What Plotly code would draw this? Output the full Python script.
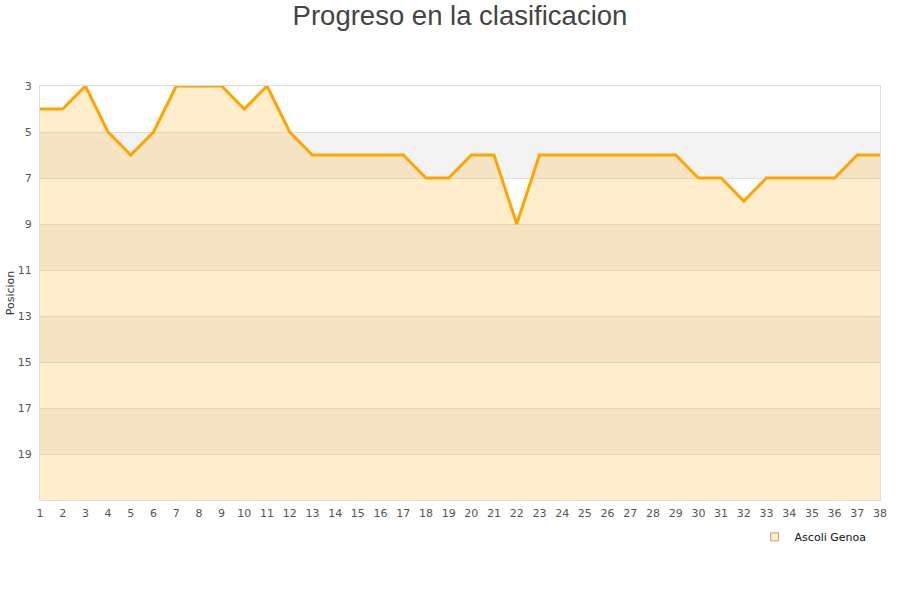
import plotly.graph_objects as go

jornadas = list(range(1, 39))
posiciones = [4, 4, 3, 5, 6, 5, 3, 3, 3, 4, 3, 5, 6, 6, 6, 6, 6, 7, 7, 6,
              6, 9, 6, 6, 6, 6, 6, 6, 6, 7, 7, 8, 7, 7, 7, 7, 6, 6]
base = [21] * len(jornadas)
y_ticks = [3, 5, 7, 9, 11, 13, 15, 17, 19]
equipo = "Ascoli Genoa"

fig = go.Figure()
fig.add_trace(go.Scatter(x=jornadas, y=base, mode="lines",
                         line=dict(width=0), showlegend=False, hoverinfo="skip"))
fig.add_trace(go.Scatter(x=jornadas, y=posiciones, mode="lines", name=equipo,
                         fill="tonexty", fillcolor="rgba(255,165,0,0.2)",
                         line=dict(color="#ffa500", width=3), showlegend=False))
# legend entry with square symbol
fig.add_trace(go.Scatter(x=[None], y=[None], mode="markers", name=equipo,
                         marker=dict(symbol="square", size=8, color="#feecca",
                                     line=dict(color="#c8a060", width=1))))

# alternating background bands
for i, t in enumerate(y_ticks):
    if i % 2 == 1:
        fig.add_shape(type="rect", xref="paper", yref="y", x0=0, x1=1,
                      y0=t, y1=t + 2, fillcolor="#f3f3f3", line=dict(width=0),
                      layer="below")

fig.update_layout(
    width=900, height=600,
    margin=dict(l=40, r=20, t=86, b=100),
    paper_bgcolor="white", plot_bgcolor="white",
    title=dict(text="Progreso en la clasificacion", x=0.5, xanchor="center",
               xref="paper", y=0.975, yanchor="middle",
               font=dict(family="Liberation Sans", size=27.5, color="#444")),
    xaxis=dict(range=[1, 38], tickmode="array", tickvals=jornadas,
               ticktext=[str(j) for j in jornadas], showgrid=False, automargin=False,
               showline=True, linecolor="#ddd", mirror=True, zeroline=False,
               tickfont=dict(family="DejaVu Sans", size=11, color="#555"), ticks="",
               ticklabelstandoff=3),
    yaxis=dict(range=[21, 3], tickmode="array", tickvals=y_ticks, automargin=False,
               showgrid=True, gridcolor="#e0e0e0", gridwidth=1,
               showline=True, linecolor="#ddd", mirror=True, zeroline=False,
               tickfont=dict(family="DejaVu Sans", size=11, color="#555"), ticks="",
               ticklabelstandoff=5,
               title=dict(text="Posicion", standoff=0,
                          font=dict(family="DejaVu Sans", size=11, color="#333"))),
    showlegend=True,
    legend=dict(x=0.99, y=-0.089, xanchor="right", yanchor="middle",
                bgcolor="rgba(0,0,0,0)", itemwidth=30,
                font=dict(family="DejaVu Sans", size=11, color="#111")),
)

fig.write_html("out.html", config={"displayModeBar": False},
               post_script="document.body.style.margin='0px';")
